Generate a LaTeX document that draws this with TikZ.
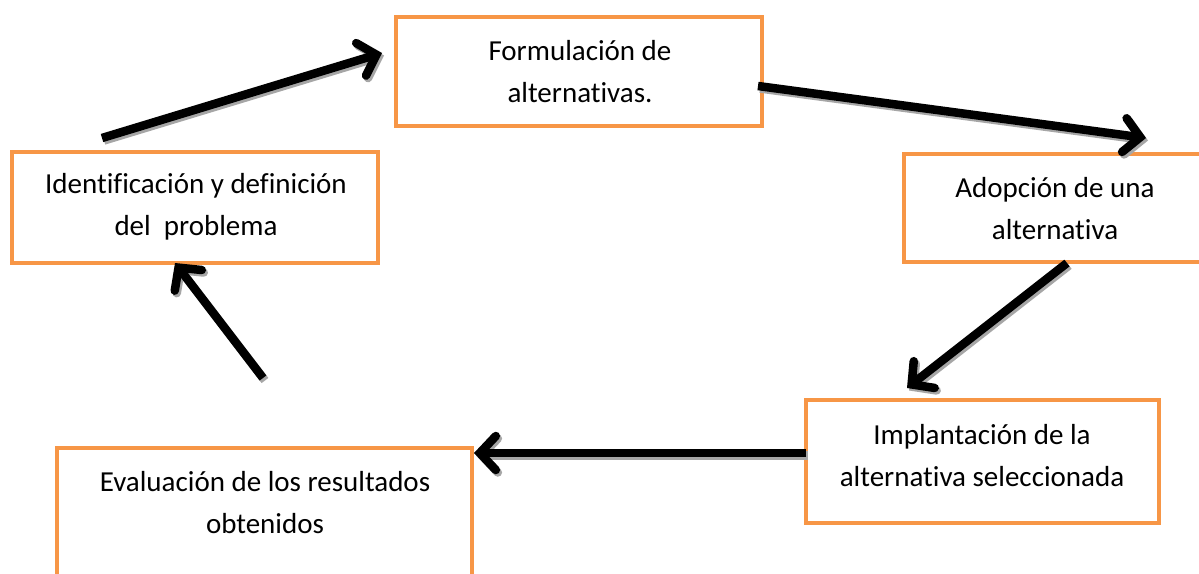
\documentclass[tikz,border=0pt]{standalone}
\usepackage{fontspec}
\setmainfont{Carlito}[RawFeature={-liga;-clig;-dlig}]
\usetikzlibrary{arrows.meta}
\definecolor{boxorange}{HTML}{F79646}
\newcommand\zkn{\kern0pt\relax}
\tikzset{
  box/.style={draw=boxorange, line width=4.5pt, fill=white, inner sep=0pt},
  lbl/.style={align=center, inner sep=0pt, font=\fontsize{29}{42}\selectfont},
  arr/.style={line width=8.5pt, black, -{Straight Barb[length=16pt,width=34pt,line cap=round]}},
  arrshadow/.style={line width=8.5pt, black!35, -{Straight Barb[length=16pt,width=34pt,line cap=round]}, transform canvas={shift={(2pt,-2.5pt)}}}
}
\begin{document}
\begin{tikzpicture}[x=1pt,y=-1pt]
\useasboundingbox (0,0) rectangle (1199,573);
\clip (0,0) rectangle (1199,573);
\fill[white] (0,0) rectangle (1199,573);
% boxes
\node[box, minimum width=366pt, minimum height=109pt] (form) at (579,71.5) {};
\node[box, minimum width=366pt, minimum height=111pt] (ident) at (195,207.5) {};
\node[box, minimum width=301pt, minimum height=108pt] (adop) at (1054.5,208) {};
\node[box, minimum width=353pt, minimum height=123pt] (impl) at (982.5,461.5) {};
\node[box, minimum width=415pt, minimum height=152pt] (eval) at (264.5,524) {};
% texts
\node[lbl] (formt) at (580,72) {Formulación de\\alternat\zkn ivas.};
\node[lbl] (identt) at (196,207) {Identif\zkn icación y def\zkn inición\\del\ \ problema};
\node[lbl] (adopt) at (1055,209) {Adopción de una\\alternat\zkn iva};
\node[lbl] (implt) at (982,456) {Implantación de la\\alternat\zkn iva seleccionada};
\node[lbl] (evalt) at (265,503) {Evaluación de los resultados\\obtenidos};
% arrow end points
\coordinate (a1s) at (102,138); \coordinate (a1e) at (382,53);
\coordinate (a2s) at (758,86);  \coordinate (a2e) at (1146,138);
\coordinate (a3s) at (1067,263); \coordinate (a3e) at (907,388);
\coordinate (a4s) at (806,453); \coordinate (a4e) at (474,453);
\coordinate (a5s) at (263,378); \coordinate (a5e) at (175,263);
% shadows
\draw[arrshadow] (a1s) -- (a1e);
\draw[arrshadow] (a2s) -- (a2e);
\draw[arrshadow] (a3s) -- (a3e);
\draw[arrshadow] (a4s) -- (a4e);
\draw[arrshadow] (a5s) -- (a5e);
% arrows
\draw[arr] (a1s) -- (a1e);
\draw[arr] (a2s) -- (a2e);
\draw[arr] (a3s) -- (a3e);
\draw[arr] (a4s) -- (a4e);
\draw[arr] (a5s) -- (a5e);
\end{tikzpicture}
\end{document}
